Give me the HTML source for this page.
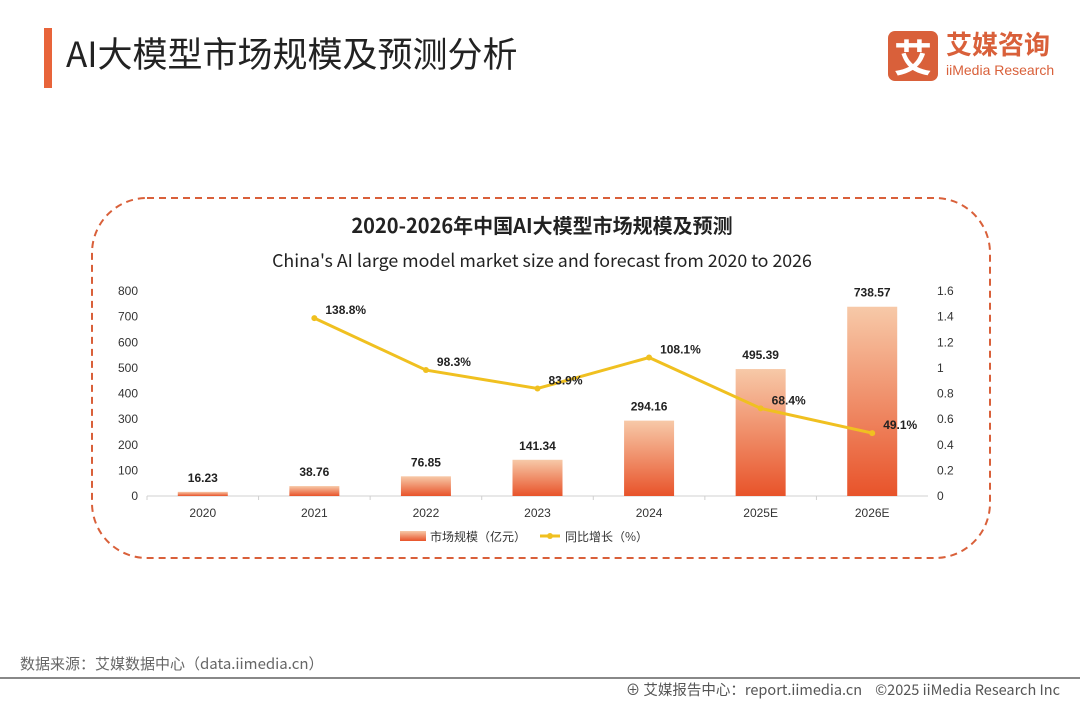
<!DOCTYPE html>
<html><head><meta charset="utf-8"><style>
body{margin:0;width:1080px;height:702px;background:#fff;font-family:"Liberation Sans","Noto Sans CJK SC",sans-serif;position:relative;overflow:hidden}
.abs{position:absolute}
</style></head><body>
<div class="abs" style="left:44px;top:28px;width:8px;height:60px;background:#e8643a"></div>
<div class="abs" style="left:66px;top:30px;font-size:35px;color:#222;font-family:'Noto Sans CJK SC',sans-serif;line-height:46px">AI大模型市场规模及预测分析</div>
<div class="abs" style="left:888px;top:31px;width:170px;height:50px">
 <div style="position:absolute;left:0;top:0;width:50px;height:50px;background:#d9603a;border-radius:7px;color:#fff;font-size:38px;font-weight:bold;text-align:center;line-height:50px;font-family:'Noto Sans CJK SC',sans-serif">艾</div>
 <div style="position:absolute;left:58px;top:-3px;font-size:26px;color:#d9603a;font-weight:bold;font-family:'Noto Sans CJK SC',sans-serif;line-height:32px">艾媒咨询</div>
 <div style="position:absolute;left:58px;top:31px;font-size:14px;color:#d9603a;line-height:16px">iiMedia Research</div>
</div>
<svg class="abs" style="left:0;top:0" width="1080" height="702">
 <defs><linearGradient id="g" x1="0" y1="0" x2="0" y2="1"><stop offset="0" stop-color="#f7c9a8"/><stop offset="1" stop-color="#e8532a"/></linearGradient></defs>
 <rect x="92" y="198" width="898" height="360" rx="55" fill="none" stroke="#d9603a" stroke-width="2" stroke-dasharray="7,5"/>
 <text x="542" y="233" text-anchor="middle" font-size="20" font-weight="bold" fill="#222" font-family="Noto Sans CJK SC,sans-serif">2020-2026年中国AI大模型市场规模及预测</text>
 <text x="542" y="267" text-anchor="middle" font-size="17.8" fill="#222" font-family="Noto Sans CJK SC,sans-serif">China's AI large model market size and forecast from 2020 to 2026</text>
 <g id="plot"></g>
 <g>
  <rect x="400" y="531" width="26" height="10" fill="url(#g)"/>
  <text x="430" y="541" font-size="12" fill="#333" font-family="Noto Sans CJK SC,sans-serif">市场规模（亿元）</text>
  <line x1="540" y1="536" x2="560" y2="536" stroke="#f0c020" stroke-width="3"/><circle cx="550" cy="536" r="3" fill="#f0c020"/>
  <text x="565" y="541" font-size="12" fill="#333" font-family="Noto Sans CJK SC,sans-serif">同比增长（%）</text>
 </g>
 <line x1="0" y1="678" x2="1080" y2="678" stroke="#888" stroke-width="2"/>
</svg>
<div class="abs" style="left:20px;top:653px;font-size:15px;color:#666;font-family:'Noto Sans CJK SC',sans-serif">数据来源：艾媒数据中心（data.iimedia.cn）</div>
<div class="abs" style="right:20px;top:679px;font-size:14.5px;color:#555;font-family:'Noto Sans CJK SC',sans-serif">⊕ 艾媒报告中心：report.iimedia.cn &nbsp;&nbsp; ©2025 iiMedia Research Inc</div>
<script>
const categories=["2020","2021","2022","2023","2024","2025E","2026E"];
const marketSize=[16.23,38.76,76.85,141.34,294.16,495.39,738.57];
const growth=[null,138.8,98.3,83.9,108.1,68.4,49.1];
const leftTicks=[0,100,200,300,400,500,600,700,800];
const rightTicks=[0,0.2,0.4,0.6,0.8,1,1.2,1.4,1.6];
const NS='http://www.w3.org/2000/svg';
const g=document.getElementById('plot');
const x0=147,x1=928,y0=496,yTop=291;
const band=(x1-x0)/categories.length;
const xc=i=>x0+band*(i+0.5);
const yL=v=>y0-(v/800)*(y0-yTop);
const yR=v=>y0-(v/1.6)*(y0-yTop);
function mk(t,a,txt){const e=document.createElementNS(NS,t);for(const k in a)e.setAttribute(k,a[k]);if(txt!==undefined)e.textContent=txt;g.appendChild(e);return e;}
leftTicks.forEach(v=>{const e=mk('text',{x:138,y:yL(v)+4,'text-anchor':'end','font-size':12,fill:'#333'},v);

});
rightTicks.forEach(v=>{const e=mk('text',{x:937,y:yR(v)+4,'font-size':12,fill:'#333'},v);

});
const ax=mk('line',{x1:x0,y1:y0,x2:x1,y2:y0,stroke:'#d0d0d0'});


categories.forEach((c,i)=>{
 mk('line',{x1:x0+band*i,y1:y0,x2:x0+band*i,y2:y0+4,stroke:'#d0d0d0'});
 const t=mk('text',{x:xc(i),y:517,'text-anchor':'middle','font-size':12,fill:'#333'},c);
 
 
 const b=mk('rect',{x:xc(i)-25,y:yL(marketSize[i]),width:50,height:y0-yL(marketSize[i]),fill:'url(#g)'});
 
 
 const l=mk('text',{x:xc(i),y:yL(marketSize[i])-10,'text-anchor':'middle','font-size':12,'font-weight':'bold',fill:'#222'},marketSize[i].toFixed(2));
 
 
});
const pts=growth.map((v,i)=>v==null?null:[xc(i),yR(v/100)]).filter(p=>p);
const pl=mk('polyline',{points:pts.map(p=>p.join(',')).join(' '),fill:'none',stroke:'#f0c020','stroke-width':3});


growth.forEach((v,i)=>{if(v==null)return;
 const c=mk('circle',{cx:xc(i),cy:yR(v/100),r:3,fill:'#f0c020'});
 
 
 const t=mk('text',{x:xc(i)+11,y:yR(v/100)-4,'font-size':12,'font-weight':'bold',fill:'#222'},v.toFixed(1)+'%');
 
 
});
</script>
</body></html>
